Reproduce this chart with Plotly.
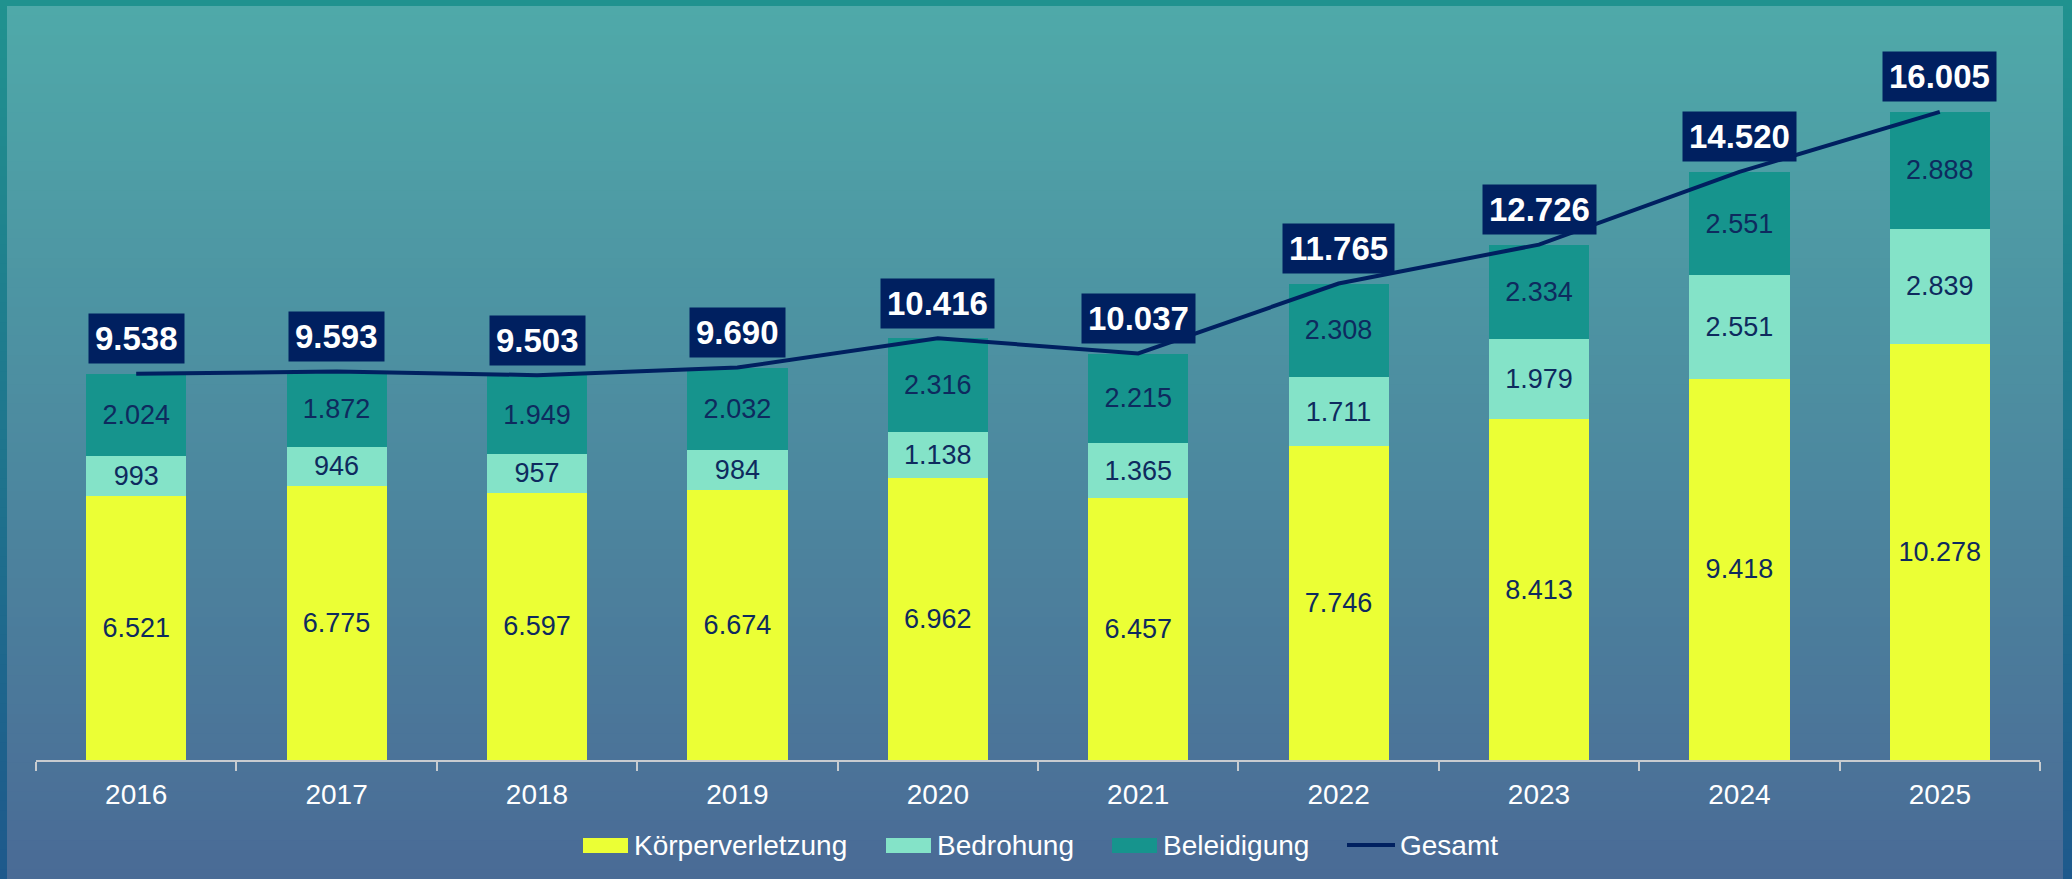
import plotly.graph_objects as go

years = ["2016", "2017", "2018", "2019", "2020", "2021", "2022", "2023", "2024", "2025"]
koerperverletzung = [6521, 6775, 6597, 6674, 6962, 6457, 7746, 8413, 9418, 10278]
bedrohung = [993, 946, 957, 984, 1138, 1365, 1711, 1979, 2551, 2839]
beleidigung = [2024, 1872, 1949, 2032, 2316, 2215, 2308, 2334, 2551, 2888]
gesamt = [9538, 9593, 9503, 9690, 10416, 10037, 11765, 12726, 14520, 16005]

W, H = 2072, 879
NAVY = "#002060"
FONT = "Arial, Liberation Sans, sans-serif"
series = [
    ("Körperverletzung", koerperverletzung, "#EBFF35"),
    ("Bedrohung", bedrohung, "#84E3C8"),
    ("Beleidigung", beleidigung, "#16948D"),
]


def mix(c1, c2, t):
    a = [int(c1[i:i + 2], 16) for i in (1, 3, 5)]
    b = [int(c2[i:i + 2], 16) for i in (1, 3, 5)]
    return "rgb(%d,%d,%d)" % tuple(round(a[k] + (b[k] - a[k]) * t) for k in range(3))


def gradient(x0, x1, y0, y1, top, bottom, n=90):
    out = []
    h = (y1 - y0) / n
    for i in range(n):
        out.append(dict(
            type="rect", xref="paper", yref="paper", layer="below",
            x0=x0, x1=x1, y0=y1 - (i + 1) * h - 0.001, y1=y1 - i * h,
            fillcolor=mix(top, bottom, i / (n - 1)), line=dict(width=0),
        ))
    return out


fig = go.Figure()

for name, vals, color in series:
    fig.add_trace(go.Bar(
        x=years, y=vals, name=name,
        marker=dict(color=color, line=dict(width=0)),
        texttemplate="%{y:,}", textposition="inside",
        insidetextanchor="middle", constraintext="none",
        textfont=dict(color="#0E2A5E", size=27, family=FONT),
        showlegend=False,
    ))

fig.add_trace(go.Scatter(
    x=years, y=gesamt, name="Gesamt", mode="lines",
    line=dict(color=NAVY, width=4), showlegend=False,
))

# category axes take the category index for annotations
for i, tot in enumerate(gesamt):
    fig.add_annotation(
        x=i, y=tot, text="<b>%s</b>" % f"{tot:,}".replace(",", "."),
        showarrow=False, yanchor="middle", yshift=35,
        bgcolor=NAVY, borderpad=6,
        font=dict(color="white", size=33, family=FONT),
    )

shapes = gradient(0, 1, 0, 1, "#20928F", "#1E598C")
shapes += gradient(7 / W, 1 - 9 / W, 0, 1 - 6 / H, "#4FA9A9", "#4A6B96")

# legend drawn by hand: wide swatches like the original
legend_x = [583, 886, 1112, 1347]
sw_y0, sw_y1 = 1 - 853 / H, 1 - 838 / H
for (name, _, color), lx in zip(series, legend_x):
    shapes.append(dict(type="rect", xref="paper", yref="paper",
                       x0=lx / W, x1=(lx + 45) / W, y0=sw_y0, y1=sw_y1,
                       fillcolor=color, line=dict(width=0)))
    fig.add_annotation(xref="paper", yref="paper", x=(lx + 49) / W, y=1 - 845 / H,
                       xanchor="left", yanchor="middle", showarrow=False,
                       text=name, font=dict(size=28, color="white", family=FONT))
lx = legend_x[3]
shapes.append(dict(type="line", xref="paper", yref="paper",
                   x0=lx / W, x1=(lx + 48) / W, y0=1 - 845 / H, y1=1 - 845 / H,
                   line=dict(color=NAVY, width=4)))
fig.add_annotation(xref="paper", yref="paper", x=(lx + 51) / W, y=1 - 845 / H,
                   xanchor="left", yanchor="middle", showarrow=False,
                   text="Gesamt", font=dict(size=28, color="white", family=FONT))

fig.update_layout(
    width=W, height=H,
    barmode="stack",
    bargap=0.5,
    separators=",.",
    margin=dict(l=0, r=0, t=0, b=0),
    paper_bgcolor="#20928F",
    plot_bgcolor="rgba(0,0,0,0)",
    shapes=shapes,
    font=dict(family=FONT, color="white"),
    showlegend=False,
    xaxis=dict(
        domain=[36 / W, 2040 / W],
        type="category", showgrid=False, zeroline=False,
        showline=True, linecolor="#C8CCD0", linewidth=2,
        ticks="outside", tickson="boundaries", ticklen=9, tickwidth=2,
        tickcolor="#C8CCD0", ticklabelstandoff=8,
        tickfont=dict(size=28, color="white"),
    ),
    yaxis=dict(
        domain=[(H - 760) / H, 1 - 31 / H],
        range=[0, 18000], visible=False,
    ),
    hovermode=False,
)

fig.write_html(
    "out.html",
    config={"displayModeBar": False},
    post_script="document.body.style.margin='0';document.body.style.overflow='hidden';",
)
